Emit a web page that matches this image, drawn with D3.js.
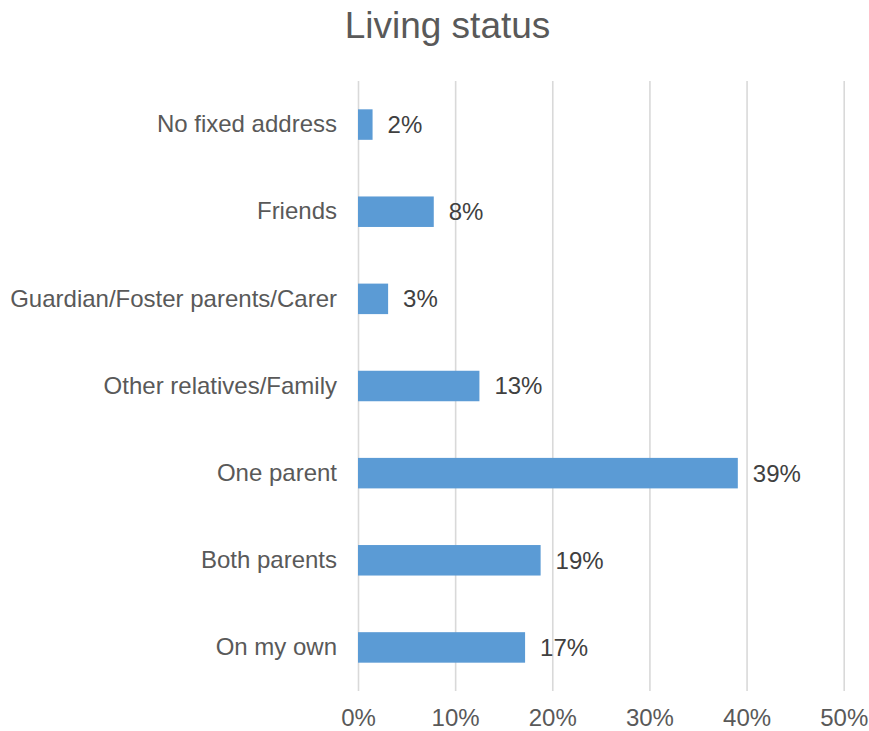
<!DOCTYPE html>
<html>
<head>
<meta charset="utf-8">
<script src="https://cdn.jsdelivr.net/npm/d3@7"></script>
<style>
  html, body { margin: 0; padding: 0; background: #fff; }
  svg { display: block; font-family: "Liberation Sans", Arial, sans-serif; }
</style>
</head>
<body>
<svg id="chart" width="869" height="731"></svg>
<script>
// Living situation of respondents, share in percent
const categories = [
  "No fixed address",
  "Friends",
  "Guardian/Foster parents/Carer",
  "Other relatives/Family",
  "One parent",
  "Both parents",
  "On my own"
];
const values = [1.5, 7.8, 3.1, 12.5, 39.1, 18.8, 17.2];
const tickValues = [0, 10, 20, 30, 40, 50];
const titleText = "Living status";

const svg = d3.select("#chart");
const margin = { top: 81, right: 26, bottom: 40, left: 358 };
const width = 869, height = 731;
const plotW = 843.7 - margin.left;
const plotH = 691 - margin.top;

const x = d3.scaleLinear().domain([0, 50]).range([0, plotW]);
const y = d3.scaleBand().domain(categories).range([0, plotH])
  .paddingInner(0.65).paddingOuter(0.325);

const g = svg.append("g").attr("transform", `translate(${margin.left},${margin.top})`);

// Vertical gridlines plus percentage tick labels
const xAxis = d3.axisBottom(x)
  .tickValues(tickValues)
  .tickSize(-plotH)
  .tickPadding(18)
  .tickFormat(d => d + "%");
const gx = g.append("g").attr("transform", `translate(0,${plotH})`).call(xAxis);
gx.select(".domain").remove();
gx.selectAll(".tick line").attr("stroke", "#d9d9d9").attr("stroke-width", 1.6);
gx.selectAll(".tick text")
  .attr("fill", "#595959")
  .attr("font-size", 24)
  .attr("font-family", "Liberation Sans, Arial, sans-serif");

// Category labels
const yAxis = d3.axisLeft(y).tickSize(0).tickPadding(21);
const gy = g.append("g").call(yAxis);
gy.select(".domain").remove();
gy.selectAll(".tick text")
  .attr("fill", "#595959")
  .attr("font-size", 24)
  .attr("font-family", "Liberation Sans, Arial, sans-serif");

const data = categories.map((c, i) => ({ cat: c, val: values[i] }));

// Bars
g.selectAll("rect.bar").data(data).join("rect")
  .attr("class", "bar")
  .attr("x", x(0))
  .attr("y", d => y(d.cat))
  .attr("width", d => x(d.val) - x(0))
  .attr("height", y.bandwidth())
  .attr("fill", "#5b9bd5");

// Value labels
g.selectAll("text.val").data(data).join("text")
  .attr("class", "val")
  .attr("x", d => x(d.val) + 15)
  .attr("y", d => y(d.cat) + y.bandwidth() / 2)
  .attr("dy", "0.35em")
  .attr("fill", "#404040")
  .attr("font-size", 24)
  .text(d => Math.round(d.val) + "%");

// Title
svg.append("text")
  .attr("x", 447.5)
  .attr("y", 37.5)
  .attr("text-anchor", "middle")
  .attr("fill", "#595959")
  .attr("font-size", 37)
  .text(titleText);
</script>
</body>
</html>
